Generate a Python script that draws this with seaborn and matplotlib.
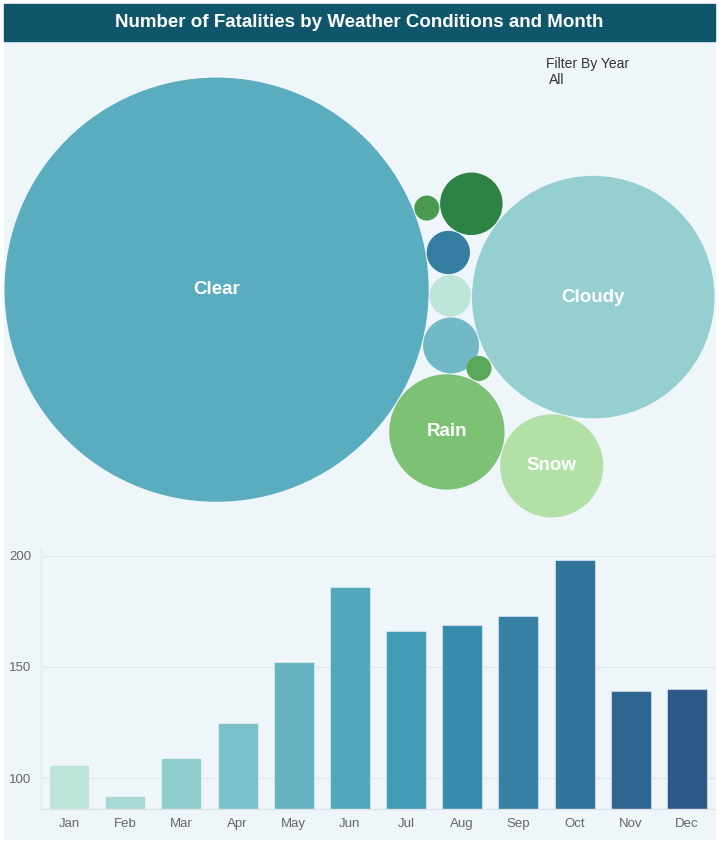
import numpy as np
import matplotlib
matplotlib.use("Agg")
import matplotlib.pyplot as plt
from matplotlib.patches import Circle, Rectangle
import seaborn as sns

# ---- data -------------------------------------------------------------
months = ["Jan", "Feb", "Mar", "Apr", "May", "Jun",
          "Jul", "Aug", "Sep", "Oct", "Nov", "Dec"]
monthly_fatalities = [106, 92, 109, 125, 152, 186, 166, 169, 173, 198, 139, 140]
month_colors = ["#bde5d9", "#a6d9d3", "#90cdce", "#7bc0c8", "#66b3c2", "#51a7bd",
                "#429cb6", "#368dad", "#3580a3", "#32739a", "#2e6590", "#2c5987"]

weather = ["Clear", "Blowing Snow", "Sleet or Hail", "Unknown", "Rain", "Cloudy",
           "Freezing Rain or Drizzle", "Snow", "Fog, Smog, Smoke", "Severe Crosswinds"]
weather_fatalities = [1150, 11, 12, 20, 85, 376, 4, 68, 25, 4]
weather_colors = ["#5aacbf", "#bde5d9", "#357ea2", "#72b9c7", "#7dc274", "#95cfd0",
                  "#5aa95a", "#b3e0a6", "#2e8344", "#4a9a4f"]

# packing order: each bubble sits against two already placed bubbles
# (anchor a, anchor b, side of the a->b line: +1 left, -1 right)
packing = [
    ("Sleet or Hail", "Clear", "Blowing Snow", 1),
    ("Unknown", "Clear", "Blowing Snow", -1),
    ("Rain", "Clear", "Unknown", -1),
    ("Cloudy", "Blowing Snow", "Unknown", 1),
    ("Freezing Rain or Drizzle", "Rain", "Cloudy", 1),
    ("Snow", "Rain", "Cloudy", -1),
    ("Fog, Smog, Smoke", "Sleet or Hail", "Cloudy", 1),
    ("Severe Crosswinds", "Clear", "Fog, Smog, Smoke", 1),
]

# ---- bubble layout ----------------------------------------------------
radius = {n: np.sqrt(v) for n, v in zip(weather, weather_fatalities)}
GAP = 0.15
SEED_ANGLE = np.deg2rad(-1.5)   # direction of the first neighbour of the largest bubble


def tangent_center(ca, ra, cb, rb, r, side):
    d = np.linalg.norm(cb - ca)
    da, db = ra + r + GAP, rb + r + GAP
    a = (da ** 2 - db ** 2 + d ** 2) / (2 * d)
    h = np.sqrt(max(da ** 2 - a ** 2, 0.0))
    u = (cb - ca) / d
    n = np.array([-u[1], u[0]])
    return ca + a * u + side * h * n


centers = {"Clear": np.array([0.0, 0.0])}
first = radius["Clear"] + radius["Blowing Snow"] + GAP
centers["Blowing Snow"] = first * np.array([np.cos(SEED_ANGLE), np.sin(SEED_ANGLE)])
for name, a, b, side in packing:
    centers[name] = tangent_center(centers[a], radius[a], centers[b], radius[b],
                                   radius[name], side)

xs = np.array([centers[n][0] for n in weather])
ys = np.array([centers[n][1] for n in weather])
rs = np.array([radius[n] for n in weather])
x0, x1 = (xs - rs).min(), (xs + rs).max()
y0, y1 = (ys - rs).min(), (ys + rs).max()

# ---- figure -----------------------------------------------------------
sns.set_theme(style="white")
plt.rcParams["font.family"] = ["Liberation Sans", "DejaVu Sans"]

W, H = 719, 841
fig = plt.figure(figsize=(W / 100, H / 100), dpi=100)
fig.patch.set_facecolor("white")


def box(l, t, r, b):
    return [l / W, 1 - b / H, (r - l) / W, (b - t) / H]


PANEL = "#eef6fa"
fig.add_artist(Rectangle((4 / W, 1 - 839 / H), 711 / W, 798 / H,
                         transform=fig.transFigure, color=PANEL, zorder=0))
fig.add_artist(Rectangle((4 / W, 1 - 41 / H), 711 / W, 37 / H,
                         transform=fig.transFigure, color="#0f566a", zorder=0))
fig.text(359.5 / W, 1 - 22.5 / H, "Number of Fatalities by Weather Conditions and Month",
         ha="center", va="center", color="white", fontsize=13.5, fontweight="bold")
fig.text(546 / W, 1 - 64 / H, "Filter By Year", ha="left", va="center",
         color="#333333", fontsize=10)
fig.text(549 / W, 1 - 80 / H, "All", ha="left", va="center",
         color="#333333", fontsize=10)

# bubbles
axb = fig.add_axes(box(4, 42, 715, 553))
axb.set_axis_off()
axb.patch.set_alpha(0)
aw, ah = 711, 511
ppu = 710 / (x1 - x0)
cx, cy = (x0 + x1) / 2, (y0 + y1) / 2
axb.set_xlim(cx - aw / 2 / ppu, cx + aw / 2 / ppu)
axb.set_ylim(cy - ah / 2 / ppu, cy + ah / 2 / ppu)
for n, col in zip(weather, weather_colors):
    c = centers[n]
    axb.add_patch(Circle(c, radius[n], facecolor=col, edgecolor="none"))
    if radius[n] * ppu > 45:
        axb.text(c[0], c[1], n, ha="center", va="center", color="white",
                 fontsize=13.5, fontweight="bold")

# monthly bars
ax = fig.add_axes(box(41, 546.7, 715, 809.3))
ax.patch.set_alpha(0)
sns.barplot(x=months, y=monthly_fatalities, hue=months, palette=month_colors,
            saturation=1, legend=False, width=0.71, ax=ax,
            edgecolor=(1, 1, 1, 0.45), linewidth=0.8)
ax.set_xlim(-0.5, 11.5)
ax.set_ylim(86, 204)
ax.set_yticks([100, 150, 200])
ax.set_xlabel("")
ax.set_ylabel("")
ax.yaxis.grid(True, color="#e1e7ea", linewidth=1)
ax.set_axisbelow(True)
for s in ("top", "right"):
    ax.spines[s].set_visible(False)
ax.spines["left"].set_color("#e3e9ec")
ax.spines["bottom"].set_color("#dde3e6")
ax.spines["left"].set_linewidth(1)
ax.spines["bottom"].set_linewidth(1)
ax.tick_params(axis="both", length=0, colors="#666666", labelsize=9.5)
ax.tick_params(axis="y", pad=7)
ax.tick_params(axis="x", pad=6)

fig.savefig("out.png", dpi=100, facecolor="white")
